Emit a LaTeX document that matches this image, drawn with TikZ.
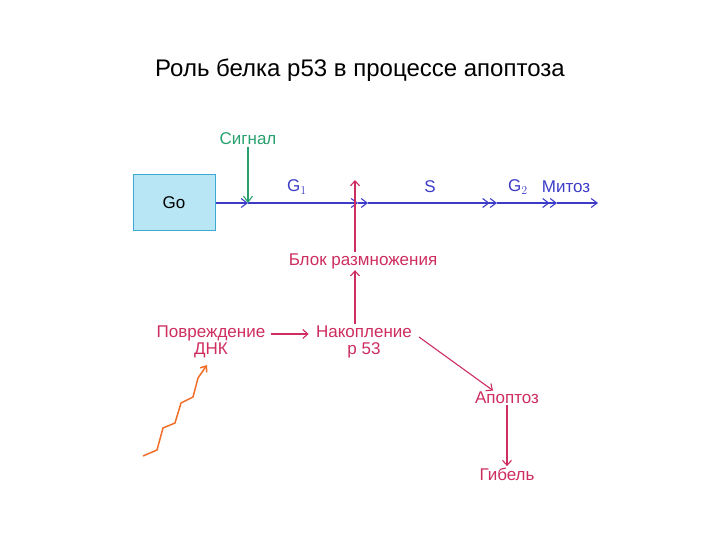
\documentclass[tikz,border=0pt]{standalone}
\usepackage{fontspec}
\setmainfont{Liberation Sans}
\usetikzlibrary{arrows.meta}
\definecolor{pk}{RGB}{205,45,95}
\definecolor{bl}{RGB}{60,60,200}
\definecolor{gr}{RGB}{40,160,110}
\definecolor{og}{RGB}{240,110,40}
\definecolor{box}{RGB}{185,230,245}
\definecolor{boxd}{RGB}{60,170,210}
\begin{document}
\begin{tikzpicture}[x=1pt,y=-1pt,line width=1.1pt,
  lab/.style={font=\fontsize{17}{17}\selectfont,inner sep=1pt},
  plab/.style={lab,text=pk,align=center},
  blab/.style={lab,text=bl},
  ch/.style={-{Straight Barb[length=6pt,width=9pt]}},
  dch/.style={-{Straight Barb[length=6pt,width=9pt]Straight Barb[length=6pt,width=9pt]}}]
\useasboundingbox (0,0) rectangle (720,540);
\node[font=\fontsize{24}{26}\selectfont] (t) at (360,70) {Роль белка p53 в процессе апоптоза};
\node[draw=boxd,fill=box,line width=1pt,minimum width=82pt,minimum height=56pt,inner sep=0,font=\fontsize{17}{17}\selectfont] (go) at (174,203) {Go};
\coordinate (a1) at (248,203);
\coordinate (a2) at (358,203);
\coordinate (a3) at (497,203);
\coordinate (a4) at (557,203);
\coordinate (a5) at (598,203);
\draw[bl,ch] (go.east) -- (a1);
\draw[bl,ch] (a1) -- (a2);
\draw[bl,ch] (a2) -- ([xshift=10pt]a2);
\draw[bl,dch] ([xshift=10pt]a2) -- (a3);
\draw[bl,dch] (a3) -- (a4);
\draw[bl,ch] (a4) -- (a5);
\node[blab] (g1) at (297,187) {G$_{\scriptstyle 1}$};
\node[blab] (s) at (430,187) {S};
\node[blab] (g2) at (518,187) {G$_{\scriptstyle 2}$};
\node[blab] (mit) at (566,187) {Митоз};
\node[lab,text=gr] (sig) at (248,139) {Сигнал};
\draw[gr,-{Straight Barb[length=6pt,width=9pt]}] (sig.south) -- (a1);
\node[plab] (blk) at (363,261) {Блок размножения};
\coordinate (bt) at (355,180);
\draw[pk,-{Straight Barb[length=5pt,width=9pt]}] (blk.north -| bt) -- (bt);
\node[plab] (dmg) at (211,342) {Повреждение\\ДНК};
\node[plab] (acc) at (364,342) {Накопление\\p 53};
\node[plab] (apo) at (507,398) {Апоптоз};
\node[plab] (gib) at (507,474) {Гибель};
\draw[pk,-{Straight Barb[length=5pt,width=9pt]}] (acc.north -| bt) -- (blk.south -| bt);
\draw[pk,-{Straight Barb[length=5pt,width=9pt]},shorten <=4pt,shorten >=6pt] (dmg.east |- 0,334) -- (acc.west |- 0,334);
\draw[pk,-{Straight Barb[length=5pt,width=9pt]}] (419,337) -- (apo.north -| 493,0);
\draw[pk,-{Straight Barb[length=5pt,width=9pt]}] (apo.south) -- (gib.north);
\coordinate (z0) at (143,456);
\coordinate (z1) at (207,365);
\draw[og,line width=1.5pt,-{Straight Barb[length=5pt,width=8pt]}] (z0) -- (157,450) -- (163,428) -- (175,423) -- (181,403) -- (193,397) -- (198,378) -- (z1);
\end{tikzpicture}
\end{document}
